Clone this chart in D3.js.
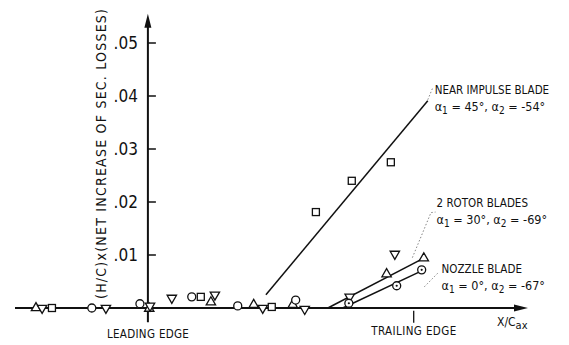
<!DOCTYPE html>
<html>
<head>
<meta charset="utf-8">
<script src="https://cdn.jsdelivr.net/npm/d3@7"></script>
<style>
  body { margin: 0; background: #fff; }
  svg text { font-family: "Liberation Sans Narrow", "DejaVu Sans Condensed", "Arial Narrow", sans-serif; fill: #111; }
</style>
</head>
<body>
<div id="chart"></div>
<script>
// measured points, x = X/Cax (0 = leading edge, 1 = trailing edge), y = net increase
var squares = [[-0.361, 0], [0.199, 0.0021], [0.466, 0.0002], [0.632, 0.0181], [0.767, 0.0240], [0.914, 0.0275]];
var upTris = [[-0.421, 0], [0.005, -0.0001], [0.237, 0.0011], [0.398, 0.0006], [0.545, 0.0006], [0.898, 0.0064], [1.038, 0.0094]];
var downTris = [[-0.398, 0], [-0.158, 0], [0.008, 0.0004], [0.090, 0.0019], [0.252, 0.0025], [0.432, 0], [0.590, -0.0002], [0.759, 0.0021], [0.929, 0.0102]];
var circles = [[-0.211, 0], [-0.030, 0.0008], [0.165, 0.0021], [0.338, 0.0004], [0.556, 0.0015]];
var dotCircles = [[0.756, 0.0009], [0.936, 0.0042], [1.030, 0.0072]];

// fitted lines
var impulseLine = [[0.444, 0.0025], [1.053, 0.0391]];
var rotorLine = [[0.677, 0], [1.038, 0.0094]];
var nozzleLine = [[0.733, 0], [1.030, 0.0070]];

var yTicks = [0.01, 0.02, 0.03, 0.04, 0.05];
var yTickLabels = [".01", ".02", ".03", ".04", ".05"];

var width = 569, height = 345;

var x = d3.scaleLinear().domain([-0.5, 1.43]).range([15, 528]);
var y = d3.scaleLinear().domain([0, 0.05]).range([308, 43]);

var svg = d3.select("#chart").append("svg")
    .attr("width", width)
    .attr("height", height);

// axes
svg.append("line")
    .attr("x1", x(-0.5)).attr("y1", y(0))
    .attr("x2", x(1.41)).attr("y2", y(0))
    .attr("stroke", "#111").attr("stroke-width", 2);
svg.append("path")
    .attr("d", "M" + x(1.43) + "," + y(0) + " l-14,-3.5 l0,7 z")
    .attr("fill", "#111");

svg.append("line")
    .attr("x1", x(0)).attr("y1", y(-0.0027))
    .attr("x2", x(0)).attr("y2", y(0.0538))
    .attr("stroke", "#111").attr("stroke-width", 2);
svg.append("path")
    .attr("d", "M" + x(0) + "," + y(0.0555) + " l-3.5,14 l7,0 z")
    .attr("fill", "#111");

// trailing edge tick
svg.append("line")
    .attr("x1", x(1)).attr("y1", y(-0.0005))
    .attr("x2", x(1)).attr("y2", y(-0.0028))
    .attr("stroke", "#111").attr("stroke-width", 1.3);

svg.selectAll(".ytick").data(yTicks).enter().append("line")
    .attr("x1", x(0)).attr("x2", x(0) + 8)
    .attr("y1", function(d) { return y(d); })
    .attr("y2", function(d) { return y(d); })
    .attr("stroke", "#111").attr("stroke-width", 1.5);

svg.selectAll(".ylab").data(yTicks).enter().append("text")
    .attr("x", x(0) - 10)
    .attr("y", function(d) { return y(d) + 6; })
    .attr("text-anchor", "end")
    .attr("font-size", 17)
    .text(function(d, i) { return yTickLabels[i]; });

svg.append("text")
    .attr("transform", "translate(106,154) rotate(-90)")
    .attr("text-anchor", "middle")
    .attr("font-size", 14)
    .attr("textLength", 290)
    .attr("lengthAdjust", "spacing")
    .text("(H/C)x(NET INCREASE OF SEC. LOSSES)");

svg.append("text")
    .attr("x", x(0)).attr("y", 338)
    .attr("text-anchor", "middle").attr("font-size", 11.5)
    .attr("textLength", 82).attr("lengthAdjust", "spacing")
    .text("LEADING EDGE");
svg.append("text")
    .attr("x", x(1)).attr("y", 335)
    .attr("text-anchor", "middle").attr("font-size", 11.5)
    .attr("textLength", 85).attr("lengthAdjust", "spacing")
    .text("TRAILING EDGE");

var xl = svg.append("text").attr("x", 497).attr("y", 326).attr("font-size", 12);
xl.append("tspan").text("X/C");
xl.append("tspan").attr("dy", 3).attr("font-size", 11).text("ax");

// data lines
var line = d3.line().x(function(d) { return x(d[0]); }).y(function(d) { return y(d[1]); });
[impulseLine, rotorLine, nozzleLine].forEach(function(l) {
    svg.append("path").attr("d", line(l))
        .attr("fill", "none").attr("stroke", "#111").attr("stroke-width", 1.5);
});

// dotted leader lines
var leaders = [
    [[1.053, 0.0393], [1.072, 0.0416]],
    [[0.995, 0.0095], [1.065, 0.0180], [1.082, 0.0181]],
    [[1.040, 0.0040], [1.095, 0.0068]]
];
leaders.forEach(function(l) {
    svg.append("path").attr("d", line(l))
        .attr("fill", "none").attr("stroke", "#666").attr("stroke-width", 0.8)
        .attr("stroke-dasharray", "1.5,2");
});

// markers
var mk = { fill: "#fff", stroke: "#111", sw: 1.3 };
svg.selectAll(".sq").data(squares).enter().append("rect")
    .attr("x", function(d) { return x(d[0]) - 3.5; })
    .attr("y", function(d) { return y(d[1]) - 3.5; })
    .attr("width", 7).attr("height", 7)
    .attr("fill", mk.fill).attr("stroke", mk.stroke).attr("stroke-width", mk.sw);

var triUp = d3.symbol().type(d3.symbolTriangle).size(38);
svg.selectAll(".tu").data(upTris).enter().append("path")
    .attr("d", triUp)
    .attr("transform", function(d) { return "translate(" + x(d[0]) + "," + y(d[1]) + ")"; })
    .attr("fill", mk.fill).attr("stroke", mk.stroke).attr("stroke-width", mk.sw);
svg.selectAll(".td").data(downTris).enter().append("path")
    .attr("d", triUp)
    .attr("transform", function(d) { return "translate(" + x(d[0]) + "," + y(d[1]) + ") rotate(180)"; })
    .attr("fill", mk.fill).attr("stroke", mk.stroke).attr("stroke-width", mk.sw);

svg.selectAll(".ci").data(circles).enter().append("circle")
    .attr("cx", function(d) { return x(d[0]); })
    .attr("cy", function(d) { return y(d[1]); })
    .attr("r", 4)
    .attr("fill", mk.fill).attr("stroke", mk.stroke).attr("stroke-width", mk.sw);
svg.selectAll(".cd").data(dotCircles).enter().append("circle")
    .attr("cx", function(d) { return x(d[0]); })
    .attr("cy", function(d) { return y(d[1]); })
    .attr("r", 4)
    .attr("fill", mk.fill).attr("stroke", mk.stroke).attr("stroke-width", mk.sw);
svg.selectAll(".cdd").data(dotCircles).enter().append("circle")
    .attr("cx", function(d) { return x(d[0]); })
    .attr("cy", function(d) { return y(d[1]); })
    .attr("r", 1.1).attr("fill", "#111");

// annotations
function label(px, py, title, a1, a2) {
    svg.append("text").attr("x", x(px)).attr("y", y(py)).attr("font-size", 11.5).text(title);
    var t = svg.append("text").attr("x", x(px)).attr("y", y(py) + 17).attr("font-size", 12.5);
    t.append("tspan").text("\u03b1");
    t.append("tspan").attr("dy", 3).attr("font-size", 10).text("1");
    t.append("tspan").attr("dy", -3).text(" = " + a1 + "\u00b0, \u03b1");
    t.append("tspan").attr("dy", 3).attr("font-size", 10).text("2");
    t.append("tspan").attr("dy", -3).text(" = " + a2 + "\u00b0");
}
label(1.079, 0.0404, "NEAR IMPULSE BLADE", "45", "-54");
label(1.086, 0.0190, "2  ROTOR BLADES", "30", "-69");
label(1.105, 0.0066, "NOZZLE BLADE", "0", "-67");
</script>
</body>
</html>
